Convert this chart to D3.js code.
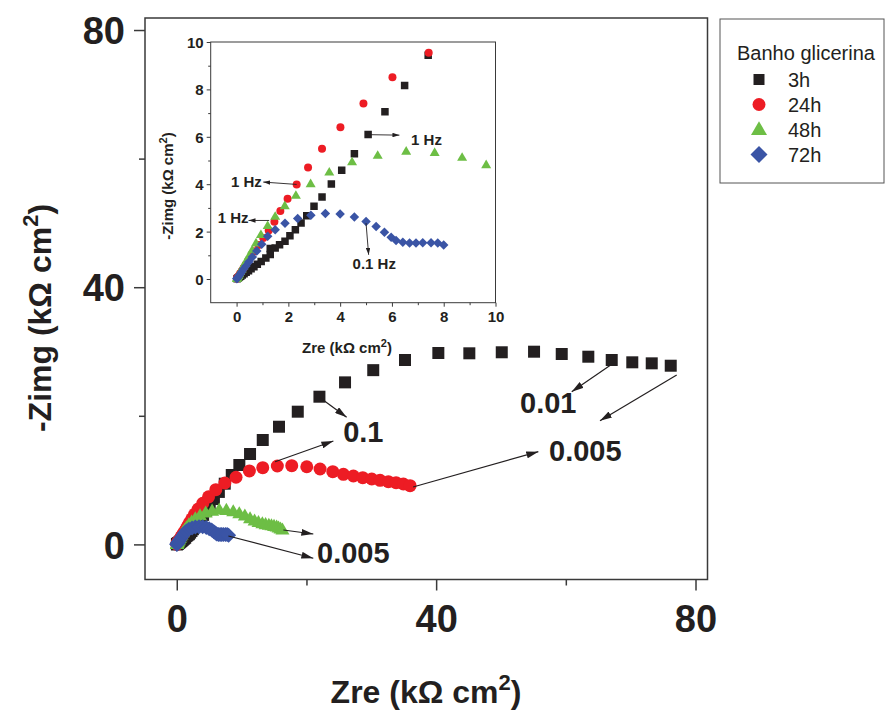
<!DOCTYPE html>
<html><head><meta charset="utf-8">
<script src="https://cdn.jsdelivr.net/npm/d3@7"></script>
<style>
body{margin:0;background:#fff;}
svg{display:block;}
text{font-family:"Liberation Sans",Arial,sans-serif;fill:#231f20;}
</style></head>
<body>
<script>
// ---------- DATA (kΩ cm²) ----------
const seriesNames = ["3h","24h","48h","72h"];
const legendTitle = "Banho glicerina";

const zre3h = [0.02,0.04,0.07,0.11,0.16,0.22,0.29,0.37,0.46,0.56,0.67,0.80,0.95,1.13,1.30,1.30,1.49,1.66,1.87,2.06,2.27,2.49,2.71,2.99,3.30,3.66,4.06,4.55,5.08,5.73,6.49,7.40,8.48,9.65,11.3,13.26,15.77,18.66,22.0,25.95,30.3,35.2,40.34,45.12,50.12,55.1,59.37,63.47,67.08,70.25,73.25,76.18];
const zim3h = [0.01,0.03,0.05,0.08,0.12,0.17,0.22,0.28,0.35,0.43,0.52,0.62,0.74,0.89,1.03,1.29,1.31,1.45,1.59,1.83,2.08,2.36,2.67,3.07,3.46,4.01,4.59,5.29,6.10,7.06,8.16,9.44,10.79,12.35,14.06,16.24,18.3,20.64,22.97,25.2,27.1,28.68,29.77,29.72,29.88,29.97,29.61,29.19,28.68,28.32,28.16,27.79];

const zre24h = [0.01,0.03,0.06,0.10,0.14,0.20,0.27,0.35,0.45,0.56,0.69,0.85,1.03,1.24,1.46,1.69,1.97,2.32,2.76,3.30,4.01,4.90,6.02,7.42,9.14,11.2,13.26,15.51,17.73,20.05,22.1,24.06,25.7,27.24,28.68,30.07,31.35,32.63,33.82,34.95,35.98];
const zim24h = [0.02,0.05,0.10,0.16,0.24,0.34,0.46,0.60,0.76,0.95,1.17,1.43,1.73,2.05,2.42,2.87,3.39,3.99,4.70,5.50,6.40,7.40,8.51,9.55,10.44,11.42,11.93,12.19,12.24,12.08,11.73,11.31,10.9,10.64,10.37,10.17,9.97,9.75,9.6,9.39,9.13];

const zre48h = [0.01,0.02,0.04,0.07,0.10,0.14,0.20,0.27,0.36,0.47,0.60,0.75,0.94,1.20,1.49,1.86,2.29,2.86,3.58,4.46,5.45,6.55,7.65,8.71,9.64,10.5,11.3,12.0,12.6,13.2,13.7,14.2,14.6,15.0,15.4,15.7,16.0,16.3];
const zim48h = [0.02,0.05,0.09,0.15,0.22,0.31,0.42,0.56,0.74,0.96,1.22,1.52,1.87,2.25,2.64,3.09,3.53,4.02,4.51,4.94,5.22,5.39,5.34,5.13,4.82,4.45,4.05,3.70,3.45,3.25,3.12,3.02,2.95,2.85,2.75,2.60,2.45,2.30];

const zre72h = [0.01,0.02,0.04,0.07,0.10,0.15,0.20,0.27,0.36,0.47,0.61,0.78,0.97,1.20,1.49,1.87,2.36,2.87,3.43,4.00,4.55,5.00,5.39,5.71,5.97,6.16,6.42,6.68,6.93,7.19,7.51,7.77,8.00];
const zim72h = [0.01,0.03,0.06,0.10,0.15,0.22,0.31,0.42,0.55,0.72,0.93,1.18,1.47,1.80,2.08,2.35,2.55,2.69,2.76,2.74,2.62,2.43,2.22,1.97,1.76,1.62,1.55,1.52,1.52,1.53,1.53,1.52,1.43];

const mainTicks = [0,40,80];
const mainMinor = [20,60];
const insetTicks = [0,2,4,6,8,10];
const insetMinor = [1,3,5,7,9];

// annotations in data units: [x1,y1,x2,y2]
const mainArrows = [
  [22.1,22.8,26.2,19.77],[15.16,12.86,24.15,16.08],
  [16.44,2.24,21.06,1.62],[7.96,1.31,21.06,-2.16],
  [66.92,27.9,60.91,23.75],
  [77.1,26.35,65.27,19.24],[36.44,8.93,55.76,14.42]
];
const mainLabels = [["0.1",25.66,15.93],["0.005",21.63,-2.89],["0.01",52.94,20.44],["0.005",57.41,13.02]];
const insetArrows = [[2.32,3.99,1.03,4.09],[1.26,2.47,0.46,2.47],[5.1,6.09,6.29,6.07],[5.0,2.36,5.1,1.02]];
const insetLabels = [["1 Hz",-0.22,3.9],["1 Hz",-0.73,2.36],["1 Hz",6.74,5.66],["0.1 Hz",4.48,0.43]];

// ---------- STYLE ----------
const colors = ["#231f20","#ed1c24","#6dbe45","#3a54a5"];
const W=885,H=716;

const sqT={draw(c,s){const h=s/2;c.rect(-h,-h,s,s);}};
const ciT={draw(c,s){const r=s/2;c.moveTo(r,0);c.arc(0,0,r,0,2*Math.PI);}};
const trT={draw(c,s){const h=s*0.86;c.moveTo(0,-h*0.6);c.lineTo(s/2,h*0.4);c.lineTo(-s/2,h*0.4);c.closePath();}};
const diT={draw(c,s){const r=s/2;c.moveTo(0,-r);c.lineTo(r,0);c.lineTo(0,r);c.lineTo(-r,0);c.closePath();}};
const types=[sqT,ciT,trT,diT];
const mainSizes=[12,13,14,15], insetSizes=[7.5,8,10,9.5], legendSizes=[11,13,16,17];

const series = [[zre3h,zim3h],[zre24h,zim24h],[zre48h,zim48h],[zre72h,zim72h]]
  .map((p,i)=>({name:seriesNames[i],pts:p[0].map((v,j)=>[v,p[1][j]])}));

const svg=d3.select("body").append("svg").attr("width",W).attr("height",H);
svg.append("rect").attr("width",W).attr("height",H).attr("fill","#fff");
const defs=svg.append("defs");
function mk(id,len,wid){
  defs.append("marker").attr("id",id).attr("markerUnits","userSpaceOnUse")
   .attr("markerWidth",len).attr("markerHeight",wid).attr("refX",len).attr("refY",wid/2)
   .attr("orient","auto").append("path").attr("d",`M0,0L${len},${wid/2}L0,${wid}Z`).attr("fill","#231f20");
}
mk("ahMain",12,7); mk("ahIn",7,4.5);

// ---------- MAIN ----------
const x=d3.scaleLinear().domain([-4.9,81.85]).range([145,707.5]);
const y=d3.scaleLinear().domain([-5.46,81.87]).range([579.5,18]);
const main=svg.append("g");
main.append("rect").attr("x",145).attr("y",18).attr("width",562.5).attr("height",561.5)
  .attr("fill","none").attr("stroke","#3a3a3a").attr("stroke-width",1.5);

const gx=main.append("g").attr("transform","translate(0,579.5)")
  .call(d3.axisBottom(x).tickValues(mainTicks).tickSize(11).tickFormat(d3.format("d")));
main.append("g").attr("transform","translate(0,579.5)")
  .call(d3.axisBottom(x).tickValues(mainMinor).tickSize(6).tickFormat(""));
const gy=main.append("g").attr("transform","translate(145,0)")
  .call(d3.axisLeft(y).tickValues(mainTicks).tickSize(11).tickFormat(d3.format("d")));
main.append("g").attr("transform","translate(145,0)")
  .call(d3.axisLeft(y).tickValues(mainMinor).tickSize(6).tickFormat(""));
main.selectAll(".domain").remove();
main.selectAll(".tick line").attr("stroke","#3a3a3a").attr("stroke-width",1.5);
gx.selectAll("text").attr("y",52).attr("dy",0).attr("font-size",38).attr("font-weight","bold")
  .attr("font-family","Liberation Sans, Arial, sans-serif").attr("fill","#231f20");
gy.selectAll("text").attr("x",-20).attr("dy","0.36em").attr("font-size",38).attr("font-weight","bold")
  .attr("font-family","Liberation Sans, Arial, sans-serif").attr("fill","#231f20");

// titles
const xt=svg.append("text").attr("x",426).attr("y",703).attr("text-anchor","middle")
  .attr("font-size",32).attr("font-weight","bold");
xt.append("tspan").text("Zre (kΩ cm");
xt.append("tspan").attr("dy",-13).attr("font-size",22).text("2");
xt.append("tspan").attr("dy",13).text(")");
const yt=svg.append("text").attr("transform","translate(51,318) rotate(-90)").attr("text-anchor","middle")
  .attr("font-size",32).attr("font-weight","bold");
yt.append("tspan").text("-Zimg (kΩ cm");
yt.append("tspan").attr("dy",-13).attr("font-size",22).text("2");
yt.append("tspan").attr("dy",13).text(")");

// ---------- INSET ----------
const xi=d3.scaleLinear().domain([-1,10]).range([210.7,495.5]);
const yi=d3.scaleLinear().domain([-1,10]).range([302.7,42]);
const ins=svg.append("g");
defs.append("clipPath").attr("id","clipIn").append("rect")
  .attr("x",210.7).attr("y",42).attr("width",284.8).attr("height",260.7);
ins.append("rect").attr("x",210.7).attr("y",42).attr("width",284.8).attr("height",260.7)
  .attr("fill","none").attr("stroke","#3a3a3a").attr("stroke-width",1);
const gxi=ins.append("g").attr("transform","translate(0,302.7)")
  .call(d3.axisBottom(xi).tickValues(insetTicks).tickSize(4).tickFormat(d3.format("d")));
ins.append("g").attr("transform","translate(0,302.7)")
  .call(d3.axisBottom(xi).tickValues(insetMinor).tickSize(2.5).tickFormat(""));
const gyi=ins.append("g").attr("transform","translate(210.7,0)")
  .call(d3.axisLeft(yi).tickValues(insetTicks).tickSize(4).tickFormat(d3.format("d")));
ins.append("g").attr("transform","translate(210.7,0)")
  .call(d3.axisLeft(yi).tickValues(insetMinor).tickSize(2.5).tickFormat(""));
ins.selectAll(".domain").remove();
ins.selectAll(".tick line").attr("stroke","#3a3a3a").attr("stroke-width",1);
gxi.selectAll("text").attr("y",19.5).attr("dy",0).attr("font-size",15).attr("font-weight","bold")
  .attr("font-family","DejaVu Sans, sans-serif").attr("fill","#231f20");
gyi.selectAll("text").attr("x",-7).attr("dy","0.36em").attr("font-size",15).attr("font-weight","bold")
  .attr("font-family","DejaVu Sans, sans-serif").attr("fill","#231f20");

const xti=svg.append("text").attr("x",347).attr("y",353).attr("text-anchor","middle")
  .attr("font-size",15).attr("font-weight","bold");
xti.append("tspan").text("Zre (kΩ cm");
xti.append("tspan").attr("dy",-6).attr("font-size",11).text("2");
xti.append("tspan").attr("dy",6).text(")");
const yti=svg.append("text").attr("transform","translate(173,186) rotate(-90)").attr("text-anchor","middle")
  .attr("font-size",15).attr("font-weight","bold");
yti.append("tspan").text("-Zimg (kΩ cm");
yti.append("tspan").attr("dy",-6).attr("font-size",11).text("2");
yti.append("tspan").attr("dy",6).text(")");

const inData=ins.append("g").attr("clip-path","url(#clipIn)");
series.forEach((s,i)=>{
  inData.append("g").selectAll("path").data(s.pts).join("path")
    .attr("transform",d=>`translate(${xi(d[0])},${yi(d[1])})`)
    .attr("d",d3.symbol().type(types[i]).size(insetSizes[i]))
    .attr("fill",colors[i]);
});
ins.selectAll("line.arr").data(insetArrows).join("line").attr("class","arr")
  .attr("x1",d=>xi(d[0])).attr("y1",d=>yi(d[1])).attr("x2",d=>xi(d[2])).attr("y2",d=>yi(d[3]))
  .attr("stroke","#231f20").attr("stroke-width",0.9).attr("marker-end","url(#ahIn)");
ins.selectAll("text.lab").data(insetLabels).join("text").attr("class","lab")
  .attr("x",d=>xi(d[1])).attr("y",d=>yi(d[2])).attr("font-size",15).attr("font-weight","bold").text(d=>d[0]);

// ---------- MAIN DATA ----------
series.forEach((s,i)=>{
  main.append("g").selectAll("path").data(s.pts).join("path")
    .attr("transform",d=>`translate(${x(d[0])},${y(d[1])})`)
    .attr("d",d3.symbol().type(types[i]).size(mainSizes[i]))
    .attr("fill",colors[i]);
});
main.selectAll("line.arr").data(mainArrows).join("line").attr("class","arr")
  .attr("x1",d=>x(d[0])).attr("y1",d=>y(d[1])).attr("x2",d=>x(d[2])).attr("y2",d=>y(d[3]))
  .attr("stroke","#231f20").attr("stroke-width",1.2).attr("marker-end","url(#ahMain)");
main.selectAll("text.lab").data(mainLabels).join("text").attr("class","lab")
  .attr("x",d=>x(d[1])).attr("y",d=>y(d[2])).attr("font-size",29).attr("font-weight","bold").text(d=>d[0]);

// ---------- LEGEND ----------
const lg=svg.append("g");
lg.append("rect").attr("x",720).attr("y",19).attr("width",164).attr("height",164)
  .attr("fill","#fff").attr("stroke","#555").attr("stroke-width",1);
lg.append("text").attr("x",737).attr("y",60).attr("font-size",20).text(legendTitle);
series.forEach((s,i)=>{
  const cy=79.5+i*25;
  lg.append("path").attr("transform",`translate(759,${cy})`)
    .attr("d",d3.symbol().type(types[i]).size(legendSizes[i])).attr("fill",colors[i]);
  lg.append("text").attr("x",788).attr("y",cy+7).attr("font-size",20).text(s.name);
});
</script>
</body></html>
